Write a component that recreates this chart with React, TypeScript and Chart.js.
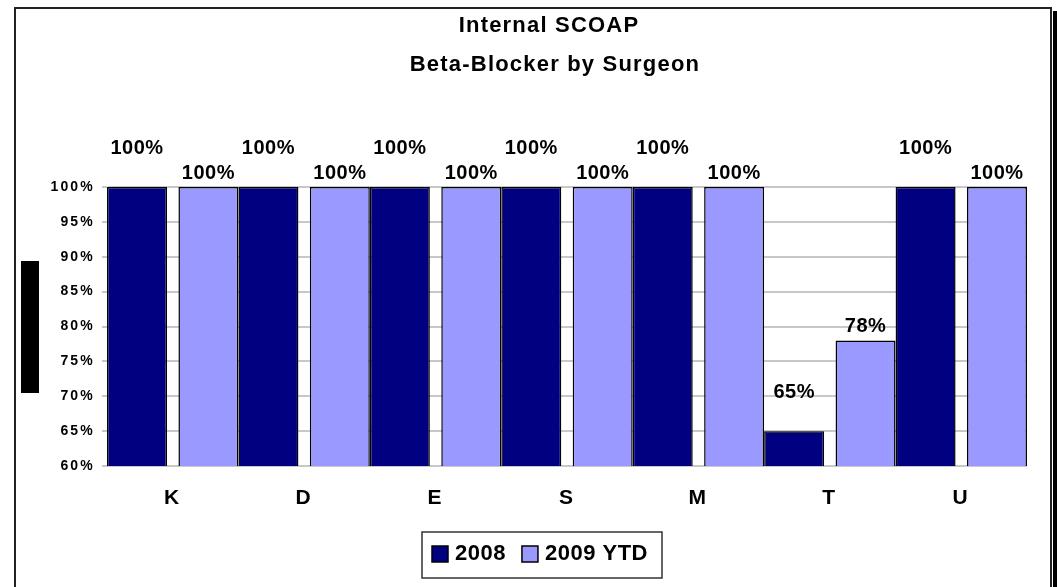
import React, { useEffect, useRef } from "react";
import { Chart, registerables } from "chart.js";

Chart.register(...registerables);

const CATEGORIES = ["K", "D", "E", "S", "M", "T", "U"];
const SERIES_2008 = [100, 100, 100, 100, 100, 65, 100];
const SERIES_2009 = [100, 100, 100, 100, 100, 78, 100];
const SERIES_NAMES = ["2008", "2009 YTD"];
const TITLE_LINES = ["Internal SCOAP", "Beta-Blocker by Surgeon"];
const Y_MIN = 60;
const Y_MAX = 100;
const Y_STEP = 5;

const W = 1057;
const H = 587;
const COLORS = ["#000080", "#9999FF"];
const LABEL_OFFSETS = [39, 14];
const FONT = '"Liberation Sans", Arial, sans-serif';

const decorPlugin = {
  id: "decor",
  beforeDraw(chart: any) {
    const ctx = chart.ctx;
    ctx.save();
    ctx.fillStyle = "#ffffff";
    ctx.fillRect(0, 0, W, H);
    ctx.fillStyle = "#000000";
    ctx.fillRect(1053, 11, 4, H);
    ctx.strokeStyle = "#222222";
    ctx.lineWidth = 2;
    ctx.strokeRect(15, 8, 1036, H + 20);
    ctx.fillStyle = "#000000";
    ctx.fillRect(21, 261, 18, 132);
    ctx.restore();
    ctx.letterSpacing = "2.2px";
  },
  beforeDatasetsDraw(chart: any) {
    chart.ctx.letterSpacing = "0px";
  },
  afterDatasetsDraw(chart: any) {
    const ctx = chart.ctx;
    ctx.save();
    ctx.font = `bold 20px ${FONT}`;
    ctx.letterSpacing = "0.5px";
    ctx.fillStyle = "#000";
    ctx.textAlign = "center";
    ctx.textBaseline = "middle";
    chart.data.datasets.forEach((ds: any, di: number) => {
      const meta = chart.getDatasetMeta(di);
      meta.data.forEach((el: any, i: number) => {
        ctx.fillText(ds.data[i] + "%", el.x, el.y - LABEL_OFFSETS[di]);
      });
    });
    ctx.restore();
  },
  afterDraw(chart: any) {
    const ctx = chart.ctx;
    ctx.save();
    // title
    ctx.fillStyle = "#000";
    ctx.textAlign = "center";
    ctx.textBaseline = "middle";
    ctx.font = `bold 22px ${FONT}`;
    ctx.letterSpacing = "1.2px";
    ctx.fillText(TITLE_LINES[0], 549, 26);
    ctx.fillText(TITLE_LINES[1], 555, 65);
    // legend
    ctx.letterSpacing = "0.5px";
    ctx.strokeStyle = "#333";
    ctx.lineWidth = 1.5;
    ctx.strokeRect(422, 532, 240, 46);
    ctx.font = `bold 22px ${FONT}`;
    ctx.textAlign = "left";
    let x = 432;
    chart.data.datasets.forEach((ds: any) => {
      ctx.fillStyle = ds.backgroundColor;
      ctx.fillRect(x, 546, 16, 16);
      ctx.strokeStyle = "#000";
      ctx.lineWidth = 1.5;
      ctx.strokeRect(x, 546, 16, 16);
      ctx.fillStyle = "#000";
      ctx.fillText(ds.label, x + 23, 554);
      x += 23 + ctx.measureText(ds.label).width + 16;
    });
    ctx.restore();
  },
};

export default function App() {
  const ref = useRef<HTMLCanvasElement>(null);
  useEffect(() => {
    document.body.style.margin = "0";
    const chart = new Chart(ref.current as HTMLCanvasElement, {
      type: "bar",
      data: {
        labels: CATEGORIES,
        datasets: [
          {
            label: SERIES_NAMES[0],
            data: SERIES_2008,
            backgroundColor: COLORS[0],
            borderColor: "#000",
            borderWidth: 1.5,
            categoryPercentage: 1.0866,
            barPercentage: 0.84,
          },
          {
            label: SERIES_NAMES[1],
            data: SERIES_2009,
            backgroundColor: COLORS[1],
            borderColor: "#000",
            borderWidth: 1.5,
            categoryPercentage: 1.0866,
            barPercentage: 0.84,
          },
        ],
      },
      options: {
        responsive: false,
        animation: false,
        layout: { padding: { top: 187, right: 30, bottom: 0, left: 0 } },
        plugins: {
          legend: { display: false },
          title: { display: false },
          tooltip: { enabled: false },
        },
        scales: {
          x: {
            grid: { display: false },
            border: { display: false },
            ticks: {
              color: "#000",
              font: { family: FONT, weight: "bold", size: 21 },
              padding: 12,
            },
            afterFit(scale: any) {
              scale.height = 121;
            },
          },
          y: {
            min: Y_MIN,
            max: Y_MAX,
            grid: { color: "#c8c8c8", lineWidth: 2, tickLength: 5 },
            border: { color: "#c8c8c8", width: 1 },
            ticks: {
              stepSize: Y_STEP,
              color: "#000",
              font: { family: FONT, weight: "bold", size: 14 },
              padding: 7,
              callback: (v: any) => v + "%",
            },
            afterFit(scale: any) {
              scale.width = 107;
            },
          },
        },
      },
      plugins: [decorPlugin],
    });
    return () => chart.destroy();
  }, []);
  return (
    <div style={{ position: "absolute", left: 0, top: 0, width: W, height: H }}>
      <canvas ref={ref} width={W} height={H} style={{ width: W, height: H }} />
    </div>
  );
}
